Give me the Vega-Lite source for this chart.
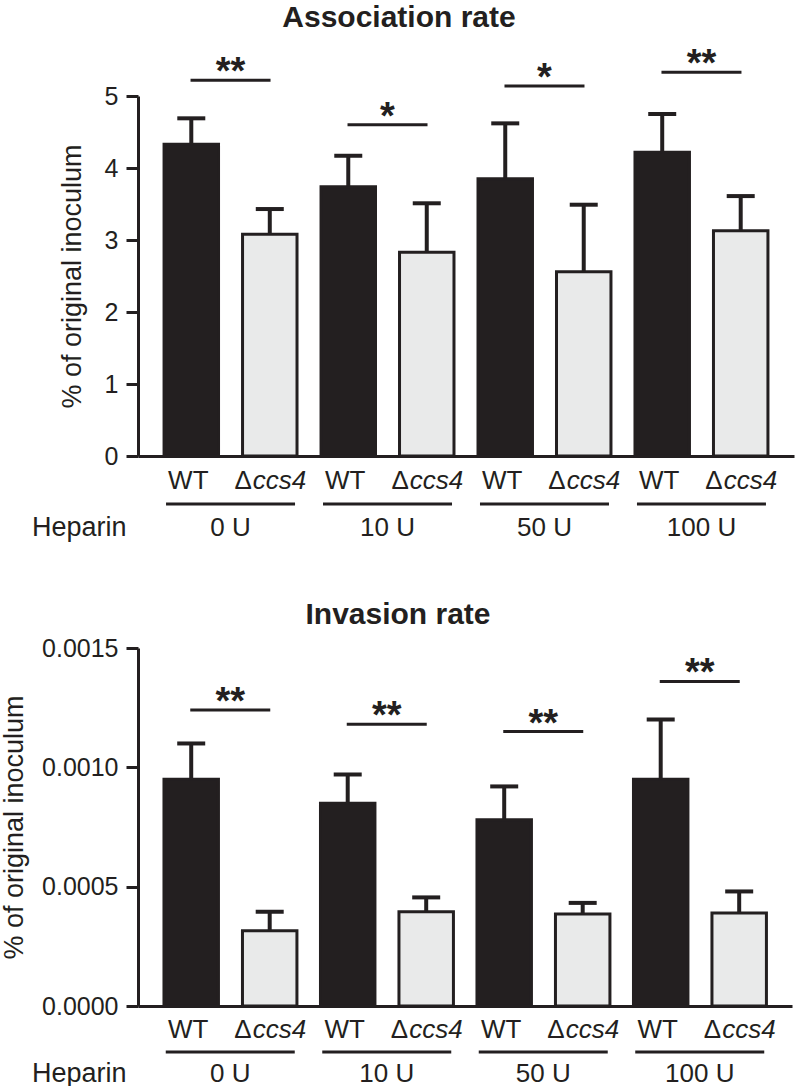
{
  "$schema": "https://vega.github.io/schema/vega-lite/v6.json",
  "background": "white",
  "padding": {"left": 0, "top": 3, "right": 2, "bottom": 0},
  "config": {
    "font": "Liberation Sans",
    "view": {"stroke": null},
    "axis": {"domainColor": "#231f20", "domainWidth": 3, "tickColor": "#231f20", "tickWidth": 3, "labelColor": "#231f20", "titleColor": "#231f20", "grid": false, "titleFontWeight": "normal"},
    "title": {"fontSize": 30, "fontWeight": "bold", "color": "#231f20"},
    "text": {"color": "#231f20"},
    "concat": {"spacing": 60}
  },
  "datasets": {
    "assoc": [
      {"group": "0 U", "strain": "WT", "mean": 4.33, "err": 4.69},
      {"group": "0 U", "strain": "Δccs4", "mean": 3.08, "err": 3.43},
      {"group": "10 U", "strain": "WT", "mean": 3.74, "err": 4.17},
      {"group": "10 U", "strain": "Δccs4", "mean": 2.83, "err": 3.51},
      {"group": "50 U", "strain": "WT", "mean": 3.85, "err": 4.62},
      {"group": "50 U", "strain": "Δccs4", "mean": 2.56, "err": 3.49},
      {"group": "100 U", "strain": "WT", "mean": 4.22, "err": 4.75},
      {"group": "100 U", "strain": "Δccs4", "mean": 3.13, "err": 3.61}
    ],
    "sigA": [
      {"group": "0 U", "y": 5.22, "label": "**"},
      {"group": "10 U", "y": 4.6, "label": "*"},
      {"group": "50 U", "y": 5.14, "label": "*"},
      {"group": "100 U", "y": 5.33, "label": "**"}
    ],
    "inv": [
      {"group": "0 U", "strain": "WT", "mean": 0.00095, "err": 0.0011},
      {"group": "0 U", "strain": "Δccs4", "mean": 0.000315, "err": 0.000395},
      {"group": "10 U", "strain": "WT", "mean": 0.00085, "err": 0.00097},
      {"group": "10 U", "strain": "Δccs4", "mean": 0.000395, "err": 0.000455},
      {"group": "50 U", "strain": "WT", "mean": 0.00078, "err": 0.00092},
      {"group": "50 U", "strain": "Δccs4", "mean": 0.000385, "err": 0.000432},
      {"group": "100 U", "strain": "WT", "mean": 0.00095, "err": 0.0012},
      {"group": "100 U", "strain": "Δccs4", "mean": 0.00039, "err": 0.00048}
    ],
    "sigI": [
      {"group": "0 U", "y": 0.00124, "label": "**"},
      {"group": "10 U", "y": 0.00118, "label": "**"},
      {"group": "50 U", "y": 0.00115, "label": "**"},
      {"group": "100 U", "y": 0.00136, "label": "**"}
    ]
  },
  "vconcat": [
    {
      "width": 656,
      "height": 360,
      "title": {"text": "Association rate", "anchor": "middle", "frame": "group", "dx": -67, "offset": 13},
      "encoding": {
        "x": {"field": "group", "type": "nominal", "sort": ["0 U", "10 U", "50 U", "100 U"],
          "scale": {"paddingInner": 0.153, "paddingOuter": 0.166},
          "axis": {"title": "Heparin", "labelAngle": 0, "labelFontSize": 26, "labelPadding": 79, "labelBaseline": "alphabetic", "ticks": false, "tickSize": 0, "titleFontSize": 27, "titleAngle": 0, "titleAlign": "right", "titleBaseline": "alphabetic", "titleX": -12, "titleY": 79}}
      },
      "layer": [
        {
          "data": {"name": "assoc"},
          "mark": {"type": "bar", "stroke": "#231f20", "strokeWidth": 3},
          "encoding": {
            "xOffset": {"field": "strain", "type": "nominal", "sort": ["WT", "Δccs4"], "scale": {"paddingInner": 0.306, "paddingOuter": 0}},
            "y": {"field": "mean", "type": "quantitative", "scale": {"domain": [0, 5], "nice": false},
              "axis": {"title": "% of original inoculum", "values": [0, 1, 2, 3, 4, 5], "format": "d", "tickSize": 12, "labelFontSize": 25, "labelPadding": 8, "titleFontSize": 27, "titlePadding": 18}},
            "color": {"field": "strain", "type": "nominal", "scale": {"domain": ["WT", "Δccs4"], "range": ["#231f20", "#e9eaea"]}, "legend": null}
          }
        },
        {
          "data": {"name": "assoc"},
          "mark": {"type": "rule", "strokeWidth": 4, "color": "#231f20"},
          "encoding": {
            "xOffset": {"field": "strain", "type": "nominal", "sort": ["WT", "Δccs4"]},
            "y": {"field": "mean", "type": "quantitative"},
            "y2": {"field": "err"}
          }
        },
        {
          "data": {"name": "assoc"},
          "mark": {"type": "tick", "orient": "horizontal", "size": 28, "thickness": 4, "color": "#231f20", "opacity": 1},
          "encoding": {
            "xOffset": {"field": "strain", "type": "nominal", "sort": ["WT", "Δccs4"]},
            "y": {"field": "err", "type": "quantitative"}
          }
        },
        {
          "data": {"name": "assoc"},
          "transform": [{"filter": "datum.strain === 'WT'"}],
          "mark": {"type": "text", "text": "WT", "fontSize": 26, "baseline": "alphabetic", "dx": -3, "dy": 33},
          "encoding": {
            "xOffset": {"field": "strain", "type": "nominal", "sort": ["WT", "Δccs4"]},
            "y": {"datum": 0}
          }
        },
        {
          "data": {"name": "assoc"},
          "transform": [{"filter": "datum.strain !== 'WT'"}],
          "mark": {"type": "text", "text": "Δ", "fontSize": 26, "baseline": "alphabetic", "align": "right", "dx": -18, "dy": 33},
          "encoding": {
            "xOffset": {"field": "strain", "type": "nominal", "sort": ["WT", "Δccs4"]},
            "y": {"datum": 0}
          }
        },
        {
          "data": {"name": "assoc"},
          "transform": [{"filter": "datum.strain !== 'WT'"}],
          "mark": {"type": "text", "text": "ccs4", "fontSize": 26, "fontStyle": "italic", "baseline": "alphabetic", "align": "left", "dx": -17, "dy": 33},
          "encoding": {
            "xOffset": {"field": "strain", "type": "nominal", "sort": ["WT", "Δccs4"]},
            "y": {"datum": 0}
          }
        },
        {
          "data": {"name": "sigA"},
          "mark": {"type": "tick", "orient": "horizontal", "size": 80, "thickness": 3, "color": "#231f20", "opacity": 1},
          "encoding": {"y": {"field": "y", "type": "quantitative"}}
        },
        {
          "data": {"name": "sigA"},
          "mark": {"type": "text", "fontSize": 38, "fontWeight": "bold", "baseline": "alphabetic", "dy": 4},
          "encoding": {"y": {"field": "y", "type": "quantitative"}, "text": {"field": "label"}}
        },
        {
          "data": {"name": "sigA"},
          "mark": {"type": "tick", "orient": "horizontal", "size": 129, "thickness": 3, "color": "#231f20", "opacity": 1, "yOffset": 48},
          "encoding": {"y": {"datum": 0}}
        }
      ]
    },
    {
      "width": 654,
      "height": 358,
      "title": {"text": "Invasion rate", "anchor": "middle", "frame": "group", "dx": -67, "offset": 6},
      "encoding": {
        "x": {"field": "group", "type": "nominal", "sort": ["0 U", "10 U", "50 U", "100 U"],
          "scale": {"paddingInner": 0.153, "paddingOuter": 0.166},
          "axis": {"title": "Heparin", "labelAngle": 0, "labelFontSize": 26, "labelPadding": 75, "labelBaseline": "alphabetic", "ticks": false, "tickSize": 0, "titleFontSize": 27, "titleAngle": 0, "titleAlign": "right", "titleBaseline": "alphabetic", "titleX": -12, "titleY": 75}}
      },
      "layer": [
        {
          "data": {"name": "inv"},
          "mark": {"type": "bar", "stroke": "#231f20", "strokeWidth": 3},
          "encoding": {
            "xOffset": {"field": "strain", "type": "nominal", "sort": ["WT", "Δccs4"], "scale": {"paddingInner": 0.306, "paddingOuter": 0}},
            "y": {"field": "mean", "type": "quantitative", "scale": {"domain": [0, 0.0015], "nice": false},
              "axis": {"title": "% of original inoculum", "values": [0, 0.0005, 0.001, 0.0015], "format": ".4f", "tickSize": 12, "labelFontSize": 25, "labelPadding": 8, "titleFontSize": 27, "titlePadding": 13}},
            "color": {"field": "strain", "type": "nominal", "scale": {"domain": ["WT", "Δccs4"], "range": ["#231f20", "#e9eaea"]}, "legend": null}
          }
        },
        {
          "data": {"name": "inv"},
          "mark": {"type": "rule", "strokeWidth": 4, "color": "#231f20"},
          "encoding": {
            "xOffset": {"field": "strain", "type": "nominal", "sort": ["WT", "Δccs4"]},
            "y": {"field": "mean", "type": "quantitative"},
            "y2": {"field": "err"}
          }
        },
        {
          "data": {"name": "inv"},
          "mark": {"type": "tick", "orient": "horizontal", "size": 28, "thickness": 4, "color": "#231f20", "opacity": 1},
          "encoding": {
            "xOffset": {"field": "strain", "type": "nominal", "sort": ["WT", "Δccs4"]},
            "y": {"field": "err", "type": "quantitative"}
          }
        },
        {
          "data": {"name": "inv"},
          "transform": [{"filter": "datum.strain === 'WT'"}],
          "mark": {"type": "text", "text": "WT", "fontSize": 26, "baseline": "alphabetic", "dx": -3, "dy": 32},
          "encoding": {
            "xOffset": {"field": "strain", "type": "nominal", "sort": ["WT", "Δccs4"]},
            "y": {"datum": 0}
          }
        },
        {
          "data": {"name": "inv"},
          "transform": [{"filter": "datum.strain !== 'WT'"}],
          "mark": {"type": "text", "text": "Δ", "fontSize": 26, "baseline": "alphabetic", "align": "right", "dx": -18, "dy": 32},
          "encoding": {
            "xOffset": {"field": "strain", "type": "nominal", "sort": ["WT", "Δccs4"]},
            "y": {"datum": 0}
          }
        },
        {
          "data": {"name": "inv"},
          "transform": [{"filter": "datum.strain !== 'WT'"}],
          "mark": {"type": "text", "text": "ccs4", "fontSize": 26, "fontStyle": "italic", "baseline": "alphabetic", "align": "left", "dx": -17, "dy": 32},
          "encoding": {
            "xOffset": {"field": "strain", "type": "nominal", "sort": ["WT", "Δccs4"]},
            "y": {"datum": 0}
          }
        },
        {
          "data": {"name": "sigI"},
          "mark": {"type": "tick", "orient": "horizontal", "size": 80, "thickness": 3, "color": "#231f20", "opacity": 1},
          "encoding": {"y": {"field": "y", "type": "quantitative"}}
        },
        {
          "data": {"name": "sigI"},
          "mark": {"type": "text", "fontSize": 38, "fontWeight": "bold", "baseline": "alphabetic", "dy": 4},
          "encoding": {"y": {"field": "y", "type": "quantitative"}, "text": {"field": "label"}}
        },
        {
          "data": {"name": "sigI"},
          "mark": {"type": "tick", "orient": "horizontal", "size": 129, "thickness": 3, "color": "#231f20", "opacity": 1, "yOffset": 46},
          "encoding": {"y": {"datum": 0}}
        }
      ]
    }
  ]
}
